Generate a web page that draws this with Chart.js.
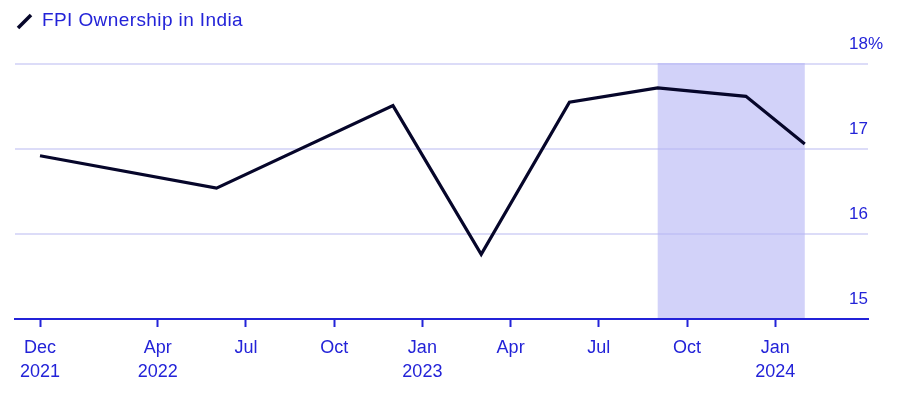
<!DOCTYPE html>
<html>
<head>
<meta charset="utf-8">
<script src="https://cdn.jsdelivr.net/npm/chart.js@4"></script>
<style>
  html, body { margin: 0; padding: 0; background: #fff; }
  canvas { display: block; }
</style>
</head>
<body>
<canvas id="fpiChart" width="903" height="402"></canvas>
<script>
// months counted from Dec 2021 (= 0)
const pointMonths = [0, 6, 12, 15, 18, 21, 24, 26];
const fpiShare = [16.92, 16.54, 17.51, 15.76, 17.55, 17.72, 17.62, 17.06];

const tickMonths = [0, 4, 7, 10, 13, 16, 19, 22, 25];
const tickLabels = [["Dec", "2021"], ["Apr", "2022"], "Jul", "Oct", ["Jan", "2023"], "Apr", "Jul", ["Oct"], ["Jan", "2024"]];

const yTicks = [15, 16, 17, 18];
const yLabels = ["15", "16", "17", "18%"];

const shadeFrom = 21;
const shadeTo = 26;

const blue = "#2323d8";
const FONT = "'Liberation Sans', Arial, sans-serif";

const ctx = document.getElementById("fpiChart").getContext("2d");

new Chart(ctx, {
  type: "line",
  data: {
    datasets: [
      {
        data: pointMonths.map((m, i) => ({ x: m, y: fpiShare[i] })),
        borderColor: "#06062a",
        borderWidth: 3.2,
        pointRadius: 0,
        tension: 0,
        borderJoinStyle: "miter",
      },
    ],
  },
  options: {
    responsive: false,
    animation: false,
    layout: { padding: { left: 15, right: 35, top: 64, bottom: 0 } },
    plugins: {
      legend: { display: false },
      tooltip: { enabled: false },
    },
    scales: {
      x: {
        type: "linear",
        min: -0.85,
        max: 28.15,
        afterBuildTicks: (scale) => {
          scale.ticks = tickMonths.map((v) => ({ value: v }));
        },
        afterFit: (scale) => {
          scale.height = 83;
        },
        ticks: {
          autoSkip: false,
          maxRotation: 0,
          padding: 9,
          color: blue,
          font: { family: FONT, size: 18, lineHeight: 1.333 },
          callback: (value) => tickLabels[tickMonths.indexOf(value)],
        },
        grid: {
          drawOnChartArea: false,
          drawTicks: true,
          tickLength: 8,
          tickWidth: 2,
          tickColor: blue,
        },
        border: { color: blue, width: 2 },
      },
      y: {
        min: 15,
        max: 18,
        afterBuildTicks: (scale) => {
          scale.ticks = yTicks.map((v) => ({ value: v }));
        },
        afterFit: (scale) => {
          scale.width = 0;
        },
        ticks: { display: false },
        grid: {
          drawTicks: false,
          color: (c) => (c.tick && c.tick.value === 15 ? "rgba(0,0,0,0)" : "#dcdcf8"),
          lineWidth: 2,
        },
        border: { display: false },
      },
    },
  },
  plugins: [
    {
      id: "shade",
      beforeDatasetsDraw(chart) {
        const { ctx, chartArea, scales } = chart;
        const x1 = scales.x.getPixelForValue(shadeFrom);
        const x2 = scales.x.getPixelForValue(shadeTo);
        ctx.save();
        ctx.fillStyle = "rgba(180,180,245,0.6)";
        ctx.fillRect(x1, chartArea.top - 1, x2 - x1, chartArea.bottom - chartArea.top);
        ctx.restore();
      },
    },
    {
      id: "labels",
      afterDraw(chart) {
        const { ctx, chartArea, scales } = chart;
        ctx.save();
        ctx.fillStyle = blue;
        ctx.font = "17px " + FONT;
        ctx.textBaseline = "middle";
        ctx.textAlign = "left";
        yTicks.forEach((v, i) => {
          const y = scales.y.getPixelForValue(v) - 19.5;
          const num = yLabels[i].replace("%", "");
          const w = ctx.measureText(num).width;
          ctx.fillText(yLabels[i], chartArea.right - w, y);
        });

        // legend
        ctx.strokeStyle = "#06062a";
        ctx.lineWidth = 3.5;
        ctx.beginPath();
        ctx.moveTo(18, 28);
        ctx.lineTo(31, 15);
        ctx.stroke();
        ctx.fillStyle = blue;
        ctx.font = "19px " + FONT;
        ctx.letterSpacing = "0.4px";
        ctx.fillText("FPI Ownership in India", 42, 21);
        ctx.restore();
      },
    },
  ],
});
</script>
</body>
</html>
